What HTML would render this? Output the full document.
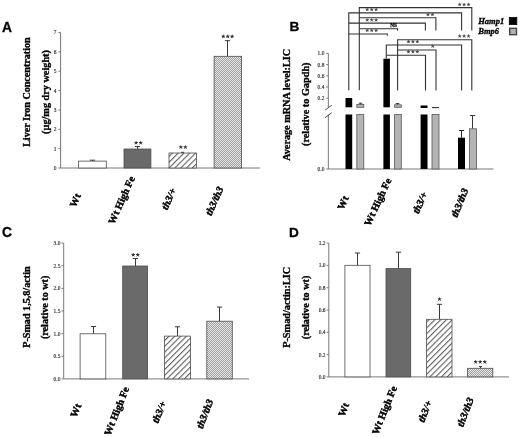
<!DOCTYPE html>
<html><head><meta charset="utf-8"><title>Figure</title>
<style>
html,body{margin:0;padding:0;background:#fff;}
body{width:520px;height:437px;overflow:hidden;font-family:"Liberation Serif",serif;}
svg{display:block;will-change:transform;}
</style></head><body>
<svg width="520" height="437" viewBox="0 0 520 437">
<rect width="520" height="437" fill="#fff"/>
<filter id="soft" x="0" y="0" width="520" height="437" filterUnits="userSpaceOnUse"><feGaussianBlur stdDeviation="0.38"/></filter>
<g filter="url(#soft)">
<defs>
<pattern id="hatch" width="4.1" height="4.1" patternUnits="userSpaceOnUse" patternTransform="rotate(45)">
<rect width="4.1" height="4.1" fill="#fff"/><line x1="0.6" y1="-1" x2="0.6" y2="6" stroke="#333" stroke-width="0.85"/></pattern>
<pattern id="dots" width="2" height="2" patternUnits="userSpaceOnUse">
<rect width="2" height="2" fill="#9e9e9e"/><rect x="0" y="0" width="1" height="1" fill="#e8e8e8"/><rect x="1" y="1" width="1" height="1" fill="#e8e8e8"/></pattern>
</defs>
<text x="1.90" y="31.50" font-family="Liberation Sans" font-size="13.8" font-weight="bold" font-style="normal" text-anchor="start" fill="#000" stroke="#000" stroke-width="0.3">A</text>
<line x1="60.60" y1="32.55" x2="60.60" y2="168.00" stroke="#787878" stroke-width="1"/>
<line x1="58.40" y1="168.00" x2="60.60" y2="168.00" stroke="#787878" stroke-width="1"/>
<text x="56.50" y="169.90" font-family="Liberation Serif" font-size="5.45" font-weight="normal" font-style="normal" text-anchor="end" fill="#222" stroke="#222" stroke-width="0.12">0</text>
<line x1="58.40" y1="148.65" x2="60.60" y2="148.65" stroke="#787878" stroke-width="1"/>
<text x="56.50" y="150.55" font-family="Liberation Serif" font-size="5.45" font-weight="normal" font-style="normal" text-anchor="end" fill="#222" stroke="#222" stroke-width="0.12">1</text>
<line x1="58.40" y1="129.30" x2="60.60" y2="129.30" stroke="#787878" stroke-width="1"/>
<text x="56.50" y="131.20" font-family="Liberation Serif" font-size="5.45" font-weight="normal" font-style="normal" text-anchor="end" fill="#222" stroke="#222" stroke-width="0.12">2</text>
<line x1="58.40" y1="109.95" x2="60.60" y2="109.95" stroke="#787878" stroke-width="1"/>
<text x="56.50" y="111.85" font-family="Liberation Serif" font-size="5.45" font-weight="normal" font-style="normal" text-anchor="end" fill="#222" stroke="#222" stroke-width="0.12">3</text>
<line x1="58.40" y1="90.60" x2="60.60" y2="90.60" stroke="#787878" stroke-width="1"/>
<text x="56.50" y="92.50" font-family="Liberation Serif" font-size="5.45" font-weight="normal" font-style="normal" text-anchor="end" fill="#222" stroke="#222" stroke-width="0.12">4</text>
<line x1="58.40" y1="71.25" x2="60.60" y2="71.25" stroke="#787878" stroke-width="1"/>
<text x="56.50" y="73.15" font-family="Liberation Serif" font-size="5.45" font-weight="normal" font-style="normal" text-anchor="end" fill="#222" stroke="#222" stroke-width="0.12">5</text>
<line x1="58.40" y1="51.90" x2="60.60" y2="51.90" stroke="#787878" stroke-width="1"/>
<text x="56.50" y="53.80" font-family="Liberation Serif" font-size="5.45" font-weight="normal" font-style="normal" text-anchor="end" fill="#222" stroke="#222" stroke-width="0.12">6</text>
<line x1="58.40" y1="32.55" x2="60.60" y2="32.55" stroke="#787878" stroke-width="1"/>
<text x="56.50" y="34.45" font-family="Liberation Serif" font-size="5.45" font-weight="normal" font-style="normal" text-anchor="end" fill="#222" stroke="#222" stroke-width="0.12">7</text>
<line x1="60.50" y1="168.00" x2="260.00" y2="168.00" stroke="#787878" stroke-width="1"/>
<text x="0" y="0" font-family="Liberation Serif" font-size="10.1" font-weight="bold" text-anchor="middle" transform="translate(30.00 92.10) rotate(-90) scale(1 0.96)" fill="#000" stroke="#000" stroke-width="0.35">Liver Iron Concentration</text>
<text x="0" y="0" font-family="Liberation Serif" font-size="10.25" font-weight="bold" text-anchor="middle" transform="translate(48.80 92.00) rotate(-90) scale(1 0.96)" fill="#000" stroke="#000" stroke-width="0.35">(µg/mg dry weight)</text>
<line x1="92.50" y1="160.20" x2="92.50" y2="161.10" stroke="#383838" stroke-width="1.0"/>
<line x1="89.90" y1="160.20" x2="95.10" y2="160.20" stroke="#383838" stroke-width="1.0"/>
<rect x="78.60" y="161.10" width="27.70" height="6.90" fill="#fff" stroke="#4c4c4c" stroke-width="0.8"/>
<line x1="137.50" y1="146.50" x2="137.50" y2="149.00" stroke="#383838" stroke-width="1.0"/>
<line x1="134.90" y1="146.50" x2="140.10" y2="146.50" stroke="#383838" stroke-width="1.0"/>
<rect x="124.00" y="149.00" width="26.90" height="19.00" fill="#6b6b6b" stroke="#4c4c4c" stroke-width="0.8"/>
<line x1="182.50" y1="152.30" x2="182.50" y2="152.80" stroke="#383838" stroke-width="1.0"/>
<line x1="181.00" y1="152.30" x2="184.00" y2="152.30" stroke="#383838" stroke-width="1.0"/>
<rect x="169.00" y="153.00" width="27.40" height="15.00" fill="url(#hatch)" stroke="#4c4c4c" stroke-width="0.8"/>
<line x1="227.50" y1="40.70" x2="227.50" y2="56.30" stroke="#383838" stroke-width="1.0"/>
<line x1="224.90" y1="40.70" x2="230.10" y2="40.70" stroke="#383838" stroke-width="1.0"/>
<rect x="214.10" y="56.30" width="27.50" height="111.70" fill="url(#dots)" stroke="#4c4c4c" stroke-width="0.8"/>
<path d="M136.12 142.90L136.12 141.52M136.12 142.90L137.44 142.47M136.12 142.90L136.94 144.02M136.12 142.90L135.31 144.02M136.12 142.90L134.81 142.47" stroke="#303030" stroke-width="1.0" stroke-linecap="round" fill="none"/>
<circle cx="136.12" cy="142.90" r="0.66" fill="#303030"/>
<path d="M140.68 142.90L140.68 141.52M140.68 142.90L141.99 142.47M140.68 142.90L141.49 144.02M140.68 142.90L139.86 144.02M140.68 142.90L139.36 142.47" stroke="#303030" stroke-width="1.0" stroke-linecap="round" fill="none"/>
<circle cx="140.68" cy="142.90" r="0.66" fill="#303030"/>
<path d="M180.82 147.20L180.82 145.82M180.82 147.20L182.14 146.77M180.82 147.20L181.64 148.32M180.82 147.20L180.01 148.32M180.82 147.20L179.51 146.77" stroke="#303030" stroke-width="1.0" stroke-linecap="round" fill="none"/>
<circle cx="180.82" cy="147.20" r="0.66" fill="#303030"/>
<path d="M185.38 147.20L185.38 145.82M185.38 147.20L186.69 146.77M185.38 147.20L186.19 148.32M185.38 147.20L184.56 148.32M185.38 147.20L184.06 146.77" stroke="#303030" stroke-width="1.0" stroke-linecap="round" fill="none"/>
<circle cx="185.38" cy="147.20" r="0.66" fill="#303030"/>
<path d="M223.35 36.50L223.35 35.12M223.35 36.50L224.66 36.07M223.35 36.50L224.16 37.62M223.35 36.50L222.54 37.62M223.35 36.50L222.04 36.07" stroke="#303030" stroke-width="1.0" stroke-linecap="round" fill="none"/>
<circle cx="223.35" cy="36.50" r="0.66" fill="#303030"/>
<path d="M227.75 36.50L227.75 35.12M227.75 36.50L229.06 36.07M227.75 36.50L228.56 37.62M227.75 36.50L226.94 37.62M227.75 36.50L226.44 36.07" stroke="#303030" stroke-width="1.0" stroke-linecap="round" fill="none"/>
<circle cx="227.75" cy="36.50" r="0.66" fill="#303030"/>
<path d="M232.15 36.50L232.15 35.12M232.15 36.50L233.46 36.07M232.15 36.50L232.96 37.62M232.15 36.50L231.34 37.62M232.15 36.50L230.84 36.07" stroke="#303030" stroke-width="1.0" stroke-linecap="round" fill="none"/>
<circle cx="232.15" cy="36.50" r="0.66" fill="#303030"/>
<text x="0" y="0" font-family="Liberation Serif" font-size="10.3" font-weight="bold" font-style="normal" text-anchor="middle" dominant-baseline="central" transform="translate(75.10 200.30) rotate(-66) scale(1 0.98)" fill="#000" stroke="#000" stroke-width="0.45">Wt</text>
<text x="0" y="0" font-family="Liberation Serif" font-size="10.3" font-weight="bold" font-style="normal" text-anchor="middle" dominant-baseline="central" transform="translate(121.40 200.10) rotate(-66) scale(1 0.98)" fill="#000" stroke="#000" stroke-width="0.45">Wt High Fe</text>
<text x="0" y="0" font-family="Liberation Serif" font-size="10.3" font-weight="bold" font-style="italic" text-anchor="middle" dominant-baseline="central" transform="translate(168.70 198.80) rotate(-66) scale(1 0.98)" fill="#000" stroke="#000" stroke-width="0.45">th3/+</text>
<text x="0" y="0" font-family="Liberation Serif" font-size="10.3" font-weight="bold" font-style="italic" text-anchor="middle" dominant-baseline="central" transform="translate(214.30 200.90) rotate(-66) scale(1 0.98)" fill="#000" stroke="#000" stroke-width="0.45">th3/th3</text>
<text x="289.50" y="31.20" font-family="Liberation Sans" font-size="13.6" font-weight="bold" font-style="normal" text-anchor="start" fill="#000" stroke="#000" stroke-width="0.3">B</text>
<line x1="328.35" y1="53.40" x2="328.35" y2="107.50" stroke="#787878" stroke-width="1"/>
<line x1="328.35" y1="114.50" x2="328.35" y2="169.00" stroke="#787878" stroke-width="1"/>
<line x1="326.15" y1="53.40" x2="328.35" y2="53.40" stroke="#787878" stroke-width="1"/>
<text x="324.35" y="55.30" font-family="Liberation Serif" font-size="5.45" font-weight="normal" font-style="normal" text-anchor="end" fill="#222" stroke="#222" stroke-width="0.12">1.0</text>
<line x1="326.15" y1="64.60" x2="328.35" y2="64.60" stroke="#787878" stroke-width="1"/>
<text x="324.35" y="66.50" font-family="Liberation Serif" font-size="5.45" font-weight="normal" font-style="normal" text-anchor="end" fill="#222" stroke="#222" stroke-width="0.12">0.8</text>
<line x1="326.15" y1="75.80" x2="328.35" y2="75.80" stroke="#787878" stroke-width="1"/>
<text x="324.35" y="77.70" font-family="Liberation Serif" font-size="5.45" font-weight="normal" font-style="normal" text-anchor="end" fill="#222" stroke="#222" stroke-width="0.12">0.6</text>
<line x1="326.15" y1="87.00" x2="328.35" y2="87.00" stroke="#787878" stroke-width="1"/>
<text x="324.35" y="88.90" font-family="Liberation Serif" font-size="5.45" font-weight="normal" font-style="normal" text-anchor="end" fill="#222" stroke="#222" stroke-width="0.12">0.4</text>
<line x1="326.15" y1="98.20" x2="328.35" y2="98.20" stroke="#787878" stroke-width="1"/>
<text x="324.35" y="100.10" font-family="Liberation Serif" font-size="5.45" font-weight="normal" font-style="normal" text-anchor="end" fill="#222" stroke="#222" stroke-width="0.12">0.2</text>
<line x1="326.15" y1="169.00" x2="328.35" y2="169.00" stroke="#787878" stroke-width="1"/>
<text x="324.35" y="170.90" font-family="Liberation Serif" font-size="5.45" font-weight="normal" font-style="normal" text-anchor="end" fill="#222" stroke="#222" stroke-width="0.12">0.0</text>
<line x1="325.00" y1="110.20" x2="331.80" y2="105.20" stroke="#444" stroke-width="0.9"/>
<line x1="325.00" y1="117.70" x2="331.80" y2="112.70" stroke="#444" stroke-width="0.9"/>
<line x1="328.35" y1="169.00" x2="493.50" y2="169.00" stroke="#787878" stroke-width="1"/>
<text x="0" y="0" font-family="Liberation Serif" font-size="10.22" font-weight="bold" text-anchor="middle" transform="translate(290.10 104.85) rotate(-90) scale(1 0.96)" fill="#000" stroke="#000" stroke-width="0.35">Average mRNA level:LIC</text>
<text x="0" y="0" font-family="Liberation Serif" font-size="10.26" font-weight="bold" text-anchor="middle" transform="translate(309.20 104.25) rotate(-90) scale(1 0.96)" fill="#000" stroke="#000" stroke-width="0.35">(relative to Gapdh)</text>
<rect x="345.50" y="98.00" width="6.70" height="9.30" fill="#000"/>
<rect x="345.50" y="114.50" width="6.70" height="54.50" fill="#000"/>
<line x1="360.50" y1="103.20" x2="360.50" y2="104.40" stroke="#383838" stroke-width="1.0"/>
<line x1="358.70" y1="103.20" x2="362.30" y2="103.20" stroke="#383838" stroke-width="1.0"/>
<rect x="356.80" y="104.40" width="7.00" height="2.90" fill="#b4b4b4" stroke="#585858" stroke-width="0.8"/>
<rect x="356.80" y="114.50" width="7.00" height="54.50" fill="#b4b4b4" stroke="#585858" stroke-width="0.8"/>
<rect x="383.40" y="58.70" width="6.50" height="48.60" fill="#000"/>
<rect x="383.40" y="114.50" width="6.50" height="54.50" fill="#000"/>
<line x1="397.50" y1="103.60" x2="397.50" y2="104.80" stroke="#383838" stroke-width="1.0"/>
<line x1="395.70" y1="103.60" x2="399.30" y2="103.60" stroke="#383838" stroke-width="1.0"/>
<rect x="394.60" y="104.80" width="6.70" height="2.50" fill="#b4b4b4" stroke="#585858" stroke-width="0.8"/>
<rect x="394.60" y="114.50" width="6.70" height="54.50" fill="#b4b4b4" stroke="#585858" stroke-width="0.8"/>
<rect x="420.60" y="105.50" width="6.90" height="2.50" fill="#000"/>
<rect x="420.60" y="114.50" width="6.90" height="54.50" fill="#000"/>
<line x1="432.00" y1="107.60" x2="439.00" y2="107.60" stroke="#222" stroke-width="1.0"/>
<rect x="432.00" y="114.50" width="7.00" height="54.50" fill="#b4b4b4" stroke="#585858" stroke-width="0.8"/>
<line x1="461.50" y1="130.50" x2="461.50" y2="137.70" stroke="#222" stroke-width="1.0"/>
<line x1="458.90" y1="130.50" x2="464.10" y2="130.50" stroke="#222" stroke-width="1.0"/>
<rect x="458.00" y="137.70" width="7.00" height="31.30" fill="#000"/>
<line x1="472.50" y1="115.50" x2="472.50" y2="128.80" stroke="#383838" stroke-width="1.0"/>
<line x1="469.90" y1="115.50" x2="475.10" y2="115.50" stroke="#383838" stroke-width="1.0"/>
<rect x="469.40" y="128.80" width="7.00" height="40.20" fill="#b4b4b4" stroke="#585858" stroke-width="0.8"/>
<polyline points="348.80,90.30 348.80,12.85 461.60,12.85 461.60,30.50" fill="none" stroke="#333" stroke-width="1.1"/>
<polyline points="359.30,90.30 359.30,7.60 471.80,7.60 471.80,30.50" fill="none" stroke="#333" stroke-width="1.1"/>
<polyline points="359.30,17.80 435.90,17.80 435.90,30.50" fill="none" stroke="#333" stroke-width="1.1"/>
<polyline points="348.80,23.10 425.40,23.10 425.40,30.50" fill="none" stroke="#333" stroke-width="1.1"/>
<polyline points="359.30,28.80 397.60,28.80 397.60,30.80" fill="none" stroke="#333" stroke-width="1.1"/>
<polyline points="348.80,34.00 387.40,34.00 387.40,35.80" fill="none" stroke="#333" stroke-width="1.1"/>
<polyline points="386.30,58.50 386.30,45.00 461.60,45.00 461.60,90.40" fill="none" stroke="#333" stroke-width="1.1"/>
<polyline points="397.60,90.40 397.60,39.80 471.80,39.80 471.80,90.40" fill="none" stroke="#333" stroke-width="1.1"/>
<polyline points="397.60,50.00 436.00,50.00 436.00,90.40" fill="none" stroke="#333" stroke-width="1.1"/>
<polyline points="386.30,55.20 425.50,55.20 425.50,90.40" fill="none" stroke="#333" stroke-width="1.1"/>
<path d="M367.25 9.60L367.25 8.30M367.25 9.60L368.49 9.20M367.25 9.60L368.01 10.65M367.25 9.60L366.49 10.65M367.25 9.60L366.01 9.20" stroke="#484848" stroke-width="0.9" stroke-linecap="round" fill="none"/>
<circle cx="367.25" cy="9.60" r="0.62" fill="#484848"/>
<path d="M371.70 9.60L371.70 8.30M371.70 9.60L372.94 9.20M371.70 9.60L372.46 10.65M371.70 9.60L370.94 10.65M371.70 9.60L370.46 9.20" stroke="#484848" stroke-width="0.9" stroke-linecap="round" fill="none"/>
<circle cx="371.70" cy="9.60" r="0.62" fill="#484848"/>
<path d="M376.15 9.60L376.15 8.30M376.15 9.60L377.39 9.20M376.15 9.60L376.91 10.65M376.15 9.60L375.39 10.65M376.15 9.60L374.91 9.20" stroke="#484848" stroke-width="0.9" stroke-linecap="round" fill="none"/>
<circle cx="376.15" cy="9.60" r="0.62" fill="#484848"/>
<path d="M367.25 20.10L367.25 18.80M367.25 20.10L368.49 19.70M367.25 20.10L368.01 21.15M367.25 20.10L366.49 21.15M367.25 20.10L366.01 19.70" stroke="#484848" stroke-width="0.9" stroke-linecap="round" fill="none"/>
<circle cx="367.25" cy="20.10" r="0.62" fill="#484848"/>
<path d="M371.70 20.10L371.70 18.80M371.70 20.10L372.94 19.70M371.70 20.10L372.46 21.15M371.70 20.10L370.94 21.15M371.70 20.10L370.46 19.70" stroke="#484848" stroke-width="0.9" stroke-linecap="round" fill="none"/>
<circle cx="371.70" cy="20.10" r="0.62" fill="#484848"/>
<path d="M376.15 20.10L376.15 18.80M376.15 20.10L377.39 19.70M376.15 20.10L376.91 21.15M376.15 20.10L375.39 21.15M376.15 20.10L374.91 19.70" stroke="#484848" stroke-width="0.9" stroke-linecap="round" fill="none"/>
<circle cx="376.15" cy="20.10" r="0.62" fill="#484848"/>
<path d="M367.25 30.50L367.25 29.20M367.25 30.50L368.49 30.10M367.25 30.50L368.01 31.55M367.25 30.50L366.49 31.55M367.25 30.50L366.01 30.10" stroke="#484848" stroke-width="0.9" stroke-linecap="round" fill="none"/>
<circle cx="367.25" cy="30.50" r="0.62" fill="#484848"/>
<path d="M371.70 30.50L371.70 29.20M371.70 30.50L372.94 30.10M371.70 30.50L372.46 31.55M371.70 30.50L370.94 31.55M371.70 30.50L370.46 30.10" stroke="#484848" stroke-width="0.9" stroke-linecap="round" fill="none"/>
<circle cx="371.70" cy="30.50" r="0.62" fill="#484848"/>
<path d="M376.15 30.50L376.15 29.20M376.15 30.50L377.39 30.10M376.15 30.50L376.91 31.55M376.15 30.50L375.39 31.55M376.15 30.50L374.91 30.10" stroke="#484848" stroke-width="0.9" stroke-linecap="round" fill="none"/>
<circle cx="376.15" cy="30.50" r="0.62" fill="#484848"/>
<text x="393.60" y="27.20" font-family="Liberation Serif" font-size="5.2" font-weight="bold" font-style="normal" text-anchor="middle" fill="#000" stroke="#000" stroke-width="0.25">NS</text>
<path d="M427.97 14.60L427.97 13.30M427.97 14.60L429.21 14.20M427.97 14.60L428.74 15.65M427.97 14.60L427.21 15.65M427.97 14.60L426.74 14.20" stroke="#484848" stroke-width="0.9" stroke-linecap="round" fill="none"/>
<circle cx="427.97" cy="14.60" r="0.62" fill="#484848"/>
<path d="M432.43 14.60L432.43 13.30M432.43 14.60L433.66 14.20M432.43 14.60L433.19 15.65M432.43 14.60L431.66 15.65M432.43 14.60L431.19 14.20" stroke="#484848" stroke-width="0.9" stroke-linecap="round" fill="none"/>
<circle cx="432.43" cy="14.60" r="0.62" fill="#484848"/>
<path d="M459.65 4.60L459.65 3.30M459.65 4.60L460.89 4.20M459.65 4.60L460.41 5.65M459.65 4.60L458.89 5.65M459.65 4.60L458.41 4.20" stroke="#484848" stroke-width="0.9" stroke-linecap="round" fill="none"/>
<circle cx="459.65" cy="4.60" r="0.62" fill="#484848"/>
<path d="M464.10 4.60L464.10 3.30M464.10 4.60L465.34 4.20M464.10 4.60L464.86 5.65M464.10 4.60L463.34 5.65M464.10 4.60L462.86 4.20" stroke="#484848" stroke-width="0.9" stroke-linecap="round" fill="none"/>
<circle cx="464.10" cy="4.60" r="0.62" fill="#484848"/>
<path d="M468.55 4.60L468.55 3.30M468.55 4.60L469.79 4.20M468.55 4.60L469.31 5.65M468.55 4.60L467.79 5.65M468.55 4.60L467.31 4.20" stroke="#484848" stroke-width="0.9" stroke-linecap="round" fill="none"/>
<circle cx="468.55" cy="4.60" r="0.62" fill="#484848"/>
<path d="M459.65 36.20L459.65 34.90M459.65 36.20L460.89 35.80M459.65 36.20L460.41 37.25M459.65 36.20L458.89 37.25M459.65 36.20L458.41 35.80" stroke="#484848" stroke-width="0.9" stroke-linecap="round" fill="none"/>
<circle cx="459.65" cy="36.20" r="0.62" fill="#484848"/>
<path d="M464.10 36.20L464.10 34.90M464.10 36.20L465.34 35.80M464.10 36.20L464.86 37.25M464.10 36.20L463.34 37.25M464.10 36.20L462.86 35.80" stroke="#484848" stroke-width="0.9" stroke-linecap="round" fill="none"/>
<circle cx="464.10" cy="36.20" r="0.62" fill="#484848"/>
<path d="M468.55 36.20L468.55 34.90M468.55 36.20L469.79 35.80M468.55 36.20L469.31 37.25M468.55 36.20L467.79 37.25M468.55 36.20L467.31 35.80" stroke="#484848" stroke-width="0.9" stroke-linecap="round" fill="none"/>
<circle cx="468.55" cy="36.20" r="0.62" fill="#484848"/>
<path d="M408.45 41.70L408.45 40.40M408.45 41.70L409.69 41.30M408.45 41.70L409.21 42.75M408.45 41.70L407.69 42.75M408.45 41.70L407.21 41.30" stroke="#484848" stroke-width="0.9" stroke-linecap="round" fill="none"/>
<circle cx="408.45" cy="41.70" r="0.62" fill="#484848"/>
<path d="M412.90 41.70L412.90 40.40M412.90 41.70L414.14 41.30M412.90 41.70L413.66 42.75M412.90 41.70L412.14 42.75M412.90 41.70L411.66 41.30" stroke="#484848" stroke-width="0.9" stroke-linecap="round" fill="none"/>
<circle cx="412.90" cy="41.70" r="0.62" fill="#484848"/>
<path d="M417.35 41.70L417.35 40.40M417.35 41.70L418.59 41.30M417.35 41.70L418.11 42.75M417.35 41.70L416.59 42.75M417.35 41.70L416.11 41.30" stroke="#484848" stroke-width="0.9" stroke-linecap="round" fill="none"/>
<circle cx="417.35" cy="41.70" r="0.62" fill="#484848"/>
<path d="M408.45 51.80L408.45 50.50M408.45 51.80L409.69 51.40M408.45 51.80L409.21 52.85M408.45 51.80L407.69 52.85M408.45 51.80L407.21 51.40" stroke="#484848" stroke-width="0.9" stroke-linecap="round" fill="none"/>
<circle cx="408.45" cy="51.80" r="0.62" fill="#484848"/>
<path d="M412.90 51.80L412.90 50.50M412.90 51.80L414.14 51.40M412.90 51.80L413.66 52.85M412.90 51.80L412.14 52.85M412.90 51.80L411.66 51.40" stroke="#484848" stroke-width="0.9" stroke-linecap="round" fill="none"/>
<circle cx="412.90" cy="51.80" r="0.62" fill="#484848"/>
<path d="M417.35 51.80L417.35 50.50M417.35 51.80L418.59 51.40M417.35 51.80L418.11 52.85M417.35 51.80L416.59 52.85M417.35 51.80L416.11 51.40" stroke="#484848" stroke-width="0.9" stroke-linecap="round" fill="none"/>
<circle cx="417.35" cy="51.80" r="0.62" fill="#484848"/>
<path d="M432.70 46.30L432.70 45.00M432.70 46.30L433.94 45.90M432.70 46.30L433.46 47.35M432.70 46.30L431.94 47.35M432.70 46.30L431.46 45.90" stroke="#484848" stroke-width="0.9" stroke-linecap="round" fill="none"/>
<circle cx="432.70" cy="46.30" r="0.62" fill="#484848"/>
<text x="0" y="0" font-family="Liberation Serif" font-size="8.55" font-weight="bold" font-style="italic" transform="translate(478.2 24.3) scale(1 1.08)" stroke="#000" stroke-width="0.3">Hamp1</text>
<text x="0" y="0" font-family="Liberation Serif" font-size="8.55" font-weight="bold" font-style="italic" transform="translate(478.2 33.75) scale(1 1.08)" stroke="#000" stroke-width="0.3">Bmp6</text>
<rect x="509.30" y="17.50" width="7.50" height="7.10" fill="#000" stroke="#000" stroke-width="0.8"/>
<rect x="509.70" y="28.30" width="6.80" height="6.40" fill="#b0b0b0" stroke="#444" stroke-width="1.4"/>
<text x="0" y="0" font-family="Liberation Serif" font-size="10.3" font-weight="bold" font-style="normal" text-anchor="middle" dominant-baseline="central" transform="translate(342.85 202.75) rotate(-66) scale(1 0.98)" fill="#000" stroke="#000" stroke-width="0.45">Wt</text>
<text x="0" y="0" font-family="Liberation Serif" font-size="10.3" font-weight="bold" font-style="normal" text-anchor="middle" dominant-baseline="central" transform="translate(377.70 201.90) rotate(-65) scale(1 0.98)" fill="#000" stroke="#000" stroke-width="0.45">Wt High Fe</text>
<text x="0" y="0" font-family="Liberation Serif" font-size="10.3" font-weight="bold" font-style="italic" text-anchor="middle" dominant-baseline="central" transform="translate(419.80 202.70) rotate(-66) scale(1 0.98)" fill="#000" stroke="#000" stroke-width="0.45">th3/+</text>
<text x="0" y="0" font-family="Liberation Serif" font-size="10.3" font-weight="bold" font-style="italic" text-anchor="middle" dominant-baseline="central" transform="translate(459.50 202.80) rotate(-67.5) scale(1 0.98)" fill="#000" stroke="#000" stroke-width="0.45">th3/th3</text>
<text x="2.00" y="237.10" font-family="Liberation Sans" font-size="13.8" font-weight="bold" font-style="normal" text-anchor="start" fill="#000" stroke="#000" stroke-width="0.3">C</text>
<line x1="63.70" y1="243.12" x2="63.70" y2="378.90" stroke="#787878" stroke-width="1"/>
<line x1="61.50" y1="378.90" x2="63.70" y2="378.90" stroke="#787878" stroke-width="1"/>
<text x="60.40" y="380.80" font-family="Liberation Serif" font-size="5.45" font-weight="normal" font-style="normal" text-anchor="end" fill="#222" stroke="#222" stroke-width="0.12">0.0</text>
<line x1="61.50" y1="356.27" x2="63.70" y2="356.27" stroke="#787878" stroke-width="1"/>
<text x="60.40" y="358.17" font-family="Liberation Serif" font-size="5.45" font-weight="normal" font-style="normal" text-anchor="end" fill="#222" stroke="#222" stroke-width="0.12">0.5</text>
<line x1="61.50" y1="333.64" x2="63.70" y2="333.64" stroke="#787878" stroke-width="1"/>
<text x="60.40" y="335.54" font-family="Liberation Serif" font-size="5.45" font-weight="normal" font-style="normal" text-anchor="end" fill="#222" stroke="#222" stroke-width="0.12">1.0</text>
<line x1="61.50" y1="311.01" x2="63.70" y2="311.01" stroke="#787878" stroke-width="1"/>
<text x="60.40" y="312.91" font-family="Liberation Serif" font-size="5.45" font-weight="normal" font-style="normal" text-anchor="end" fill="#222" stroke="#222" stroke-width="0.12">1.5</text>
<line x1="61.50" y1="288.38" x2="63.70" y2="288.38" stroke="#787878" stroke-width="1"/>
<text x="60.40" y="290.28" font-family="Liberation Serif" font-size="5.45" font-weight="normal" font-style="normal" text-anchor="end" fill="#222" stroke="#222" stroke-width="0.12">2.0</text>
<line x1="61.50" y1="265.75" x2="63.70" y2="265.75" stroke="#787878" stroke-width="1"/>
<text x="60.40" y="267.65" font-family="Liberation Serif" font-size="5.45" font-weight="normal" font-style="normal" text-anchor="end" fill="#222" stroke="#222" stroke-width="0.12">2.5</text>
<line x1="61.50" y1="243.12" x2="63.70" y2="243.12" stroke="#787878" stroke-width="1"/>
<text x="60.40" y="245.02" font-family="Liberation Serif" font-size="5.45" font-weight="normal" font-style="normal" text-anchor="end" fill="#222" stroke="#222" stroke-width="0.12">3.0</text>
<line x1="63.70" y1="378.90" x2="249.00" y2="378.90" stroke="#787878" stroke-width="1"/>
<text x="0" y="0" font-family="Liberation Serif" font-size="10.15" font-weight="bold" text-anchor="middle" transform="translate(29.90 307.10) rotate(-90) scale(1 0.96)" fill="#000" stroke="#000" stroke-width="0.35">P-Smad 1,5,8/actin</text>
<text x="0" y="0" font-family="Liberation Serif" font-size="10.15" font-weight="bold" text-anchor="middle" transform="translate(48.30 307.35) rotate(-90) scale(1 0.96)" fill="#000" stroke="#000" stroke-width="0.35">(relative to wt)</text>
<line x1="93.50" y1="326.50" x2="93.50" y2="333.80" stroke="#383838" stroke-width="1.0"/>
<line x1="90.90" y1="326.50" x2="96.10" y2="326.50" stroke="#383838" stroke-width="1.0"/>
<rect x="80.10" y="333.80" width="25.70" height="45.10" fill="#fff" stroke="#4c4c4c" stroke-width="0.8"/>
<line x1="135.50" y1="258.50" x2="135.50" y2="266.00" stroke="#383838" stroke-width="1.0"/>
<line x1="132.90" y1="258.50" x2="138.10" y2="258.50" stroke="#383838" stroke-width="1.0"/>
<rect x="122.70" y="266.00" width="24.90" height="112.90" fill="#6b6b6b" stroke="#4c4c4c" stroke-width="0.8"/>
<line x1="177.50" y1="326.80" x2="177.50" y2="336.10" stroke="#383838" stroke-width="1.0"/>
<line x1="174.90" y1="326.80" x2="180.10" y2="326.80" stroke="#383838" stroke-width="1.0"/>
<rect x="164.50" y="336.10" width="26.00" height="42.80" fill="url(#hatch)" stroke="#4c4c4c" stroke-width="0.8"/>
<line x1="219.50" y1="307.10" x2="219.50" y2="321.20" stroke="#383838" stroke-width="1.0"/>
<line x1="216.90" y1="307.10" x2="222.10" y2="307.10" stroke="#383838" stroke-width="1.0"/>
<rect x="206.80" y="321.20" width="25.50" height="57.70" fill="url(#dots)" stroke="#4c4c4c" stroke-width="0.8"/>
<path d="M133.22 254.90L133.22 253.52M133.22 254.90L134.54 254.47M133.22 254.90L134.04 256.02M133.22 254.90L132.41 256.02M133.22 254.90L131.91 254.47" stroke="#303030" stroke-width="1.0" stroke-linecap="round" fill="none"/>
<circle cx="133.22" cy="254.90" r="0.66" fill="#303030"/>
<path d="M137.78 254.90L137.78 253.52M137.78 254.90L139.09 254.47M137.78 254.90L138.59 256.02M137.78 254.90L136.96 256.02M137.78 254.90L136.46 254.47" stroke="#303030" stroke-width="1.0" stroke-linecap="round" fill="none"/>
<circle cx="137.78" cy="254.90" r="0.66" fill="#303030"/>
<text x="0" y="0" font-family="Liberation Serif" font-size="10.3" font-weight="bold" font-style="normal" text-anchor="middle" dominant-baseline="central" transform="translate(75.65 410.40) rotate(-68) scale(1 0.98)" fill="#000" stroke="#000" stroke-width="0.45">Wt</text>
<text x="0" y="0" font-family="Liberation Serif" font-size="10.3" font-weight="bold" font-style="normal" text-anchor="middle" dominant-baseline="central" transform="translate(116.50 411.05) rotate(-68.5) scale(1 0.98)" fill="#000" stroke="#000" stroke-width="0.45">Wt High Fe</text>
<text x="0" y="0" font-family="Liberation Serif" font-size="10.3" font-weight="bold" font-style="italic" text-anchor="middle" dominant-baseline="central" transform="translate(159.00 411.95) rotate(-68) scale(1 0.98)" fill="#000" stroke="#000" stroke-width="0.45">th3/+</text>
<text x="0" y="0" font-family="Liberation Serif" font-size="10.3" font-weight="bold" font-style="italic" text-anchor="middle" dominant-baseline="central" transform="translate(204.70 413.80) rotate(-69) scale(1 0.98)" fill="#000" stroke="#000" stroke-width="0.45">th3/th3</text>
<text x="289.10" y="236.80" font-family="Liberation Sans" font-size="13.6" font-weight="bold" font-style="normal" text-anchor="start" fill="#000" stroke="#000" stroke-width="0.3">D</text>
<line x1="328.80" y1="243.10" x2="328.80" y2="376.90" stroke="#787878" stroke-width="1"/>
<line x1="326.60" y1="376.90" x2="328.80" y2="376.90" stroke="#787878" stroke-width="1"/>
<text x="325.50" y="378.80" font-family="Liberation Serif" font-size="5.45" font-weight="normal" font-style="normal" text-anchor="end" fill="#222" stroke="#222" stroke-width="0.12">0.0</text>
<line x1="326.60" y1="354.60" x2="328.80" y2="354.60" stroke="#787878" stroke-width="1"/>
<text x="325.50" y="356.50" font-family="Liberation Serif" font-size="5.45" font-weight="normal" font-style="normal" text-anchor="end" fill="#222" stroke="#222" stroke-width="0.12">0.2</text>
<line x1="326.60" y1="332.30" x2="328.80" y2="332.30" stroke="#787878" stroke-width="1"/>
<text x="325.50" y="334.20" font-family="Liberation Serif" font-size="5.45" font-weight="normal" font-style="normal" text-anchor="end" fill="#222" stroke="#222" stroke-width="0.12">0.4</text>
<line x1="326.60" y1="310.00" x2="328.80" y2="310.00" stroke="#787878" stroke-width="1"/>
<text x="325.50" y="311.90" font-family="Liberation Serif" font-size="5.45" font-weight="normal" font-style="normal" text-anchor="end" fill="#222" stroke="#222" stroke-width="0.12">0.6</text>
<line x1="326.60" y1="287.70" x2="328.80" y2="287.70" stroke="#787878" stroke-width="1"/>
<text x="325.50" y="289.60" font-family="Liberation Serif" font-size="5.45" font-weight="normal" font-style="normal" text-anchor="end" fill="#222" stroke="#222" stroke-width="0.12">0.8</text>
<line x1="326.60" y1="265.40" x2="328.80" y2="265.40" stroke="#787878" stroke-width="1"/>
<text x="325.50" y="267.30" font-family="Liberation Serif" font-size="5.45" font-weight="normal" font-style="normal" text-anchor="end" fill="#222" stroke="#222" stroke-width="0.12">1.0</text>
<line x1="326.60" y1="243.10" x2="328.80" y2="243.10" stroke="#787878" stroke-width="1"/>
<text x="325.50" y="245.00" font-family="Liberation Serif" font-size="5.45" font-weight="normal" font-style="normal" text-anchor="end" fill="#222" stroke="#222" stroke-width="0.12">1.2</text>
<line x1="328.80" y1="376.90" x2="509.00" y2="376.90" stroke="#787878" stroke-width="1"/>
<text x="0" y="0" font-family="Liberation Serif" font-size="10.3" font-weight="bold" text-anchor="middle" transform="translate(289.90 307.30) rotate(-90) scale(1 0.96)" fill="#000" stroke="#000" stroke-width="0.35">P-Smad/actin:LIC</text>
<text x="0" y="0" font-family="Liberation Serif" font-size="10.15" font-weight="bold" text-anchor="middle" transform="translate(308.60 307.45) rotate(-90) scale(1 0.96)" fill="#000" stroke="#000" stroke-width="0.35">(relative to wt)</text>
<line x1="357.50" y1="253.00" x2="357.50" y2="265.30" stroke="#383838" stroke-width="1.0"/>
<line x1="354.90" y1="253.00" x2="360.10" y2="253.00" stroke="#383838" stroke-width="1.0"/>
<rect x="344.90" y="265.30" width="25.10" height="111.60" fill="#fff" stroke="#4c4c4c" stroke-width="0.8"/>
<line x1="398.50" y1="252.20" x2="398.50" y2="268.60" stroke="#383838" stroke-width="1.0"/>
<line x1="395.90" y1="252.20" x2="401.10" y2="252.20" stroke="#383838" stroke-width="1.0"/>
<rect x="386.00" y="268.60" width="24.70" height="108.30" fill="#6b6b6b" stroke="#4c4c4c" stroke-width="0.8"/>
<line x1="439.50" y1="304.30" x2="439.50" y2="319.30" stroke="#383838" stroke-width="1.0"/>
<line x1="436.90" y1="304.30" x2="442.10" y2="304.30" stroke="#383838" stroke-width="1.0"/>
<rect x="426.60" y="319.30" width="25.40" height="57.60" fill="url(#hatch)" stroke="#4c4c4c" stroke-width="0.8"/>
<line x1="480.50" y1="366.60" x2="480.50" y2="368.30" stroke="#383838" stroke-width="1.0"/>
<line x1="479.00" y1="366.60" x2="482.00" y2="366.60" stroke="#383838" stroke-width="1.0"/>
<rect x="467.60" y="368.30" width="25.20" height="8.60" fill="url(#dots)" stroke="#4c4c4c" stroke-width="0.8"/>
<path d="M439.50 299.30L439.50 297.92M439.50 299.30L440.81 298.87M439.50 299.30L440.31 300.42M439.50 299.30L438.69 300.42M439.50 299.30L438.19 298.87" stroke="#303030" stroke-width="1.0" stroke-linecap="round" fill="none"/>
<circle cx="439.50" cy="299.30" r="0.66" fill="#303030"/>
<path d="M475.65 362.00L475.65 360.62M475.65 362.00L476.96 361.57M475.65 362.00L476.46 363.12M475.65 362.00L474.84 363.12M475.65 362.00L474.34 361.57" stroke="#303030" stroke-width="1.0" stroke-linecap="round" fill="none"/>
<circle cx="475.65" cy="362.00" r="0.66" fill="#303030"/>
<path d="M480.20 362.00L480.20 360.62M480.20 362.00L481.51 361.57M480.20 362.00L481.01 363.12M480.20 362.00L479.39 363.12M480.20 362.00L478.89 361.57" stroke="#303030" stroke-width="1.0" stroke-linecap="round" fill="none"/>
<circle cx="480.20" cy="362.00" r="0.66" fill="#303030"/>
<path d="M484.75 362.00L484.75 360.62M484.75 362.00L486.06 361.57M484.75 362.00L485.56 363.12M484.75 362.00L483.94 363.12M484.75 362.00L483.44 361.57" stroke="#303030" stroke-width="1.0" stroke-linecap="round" fill="none"/>
<circle cx="484.75" cy="362.00" r="0.66" fill="#303030"/>
<text x="0" y="0" font-family="Liberation Serif" font-size="10.3" font-weight="bold" font-style="normal" text-anchor="middle" dominant-baseline="central" transform="translate(343.50 409.55) rotate(-68) scale(1 0.98)" fill="#000" stroke="#000" stroke-width="0.45">Wt</text>
<text x="0" y="0" font-family="Liberation Serif" font-size="10.3" font-weight="bold" font-style="normal" text-anchor="middle" dominant-baseline="central" transform="translate(384.30 410.20) rotate(-68) scale(1 0.98)" fill="#000" stroke="#000" stroke-width="0.45">Wt High Fe</text>
<text x="0" y="0" font-family="Liberation Serif" font-size="10.3" font-weight="bold" font-style="italic" text-anchor="middle" dominant-baseline="central" transform="translate(424.90 411.30) rotate(-68) scale(1 0.98)" fill="#000" stroke="#000" stroke-width="0.45">th3/+</text>
<text x="0" y="0" font-family="Liberation Serif" font-size="10.3" font-weight="bold" font-style="italic" text-anchor="middle" dominant-baseline="central" transform="translate(465.20 412.00) rotate(-69) scale(1 0.98)" fill="#000" stroke="#000" stroke-width="0.45">th3/th3</text>
</g>
</svg>
</body></html>
